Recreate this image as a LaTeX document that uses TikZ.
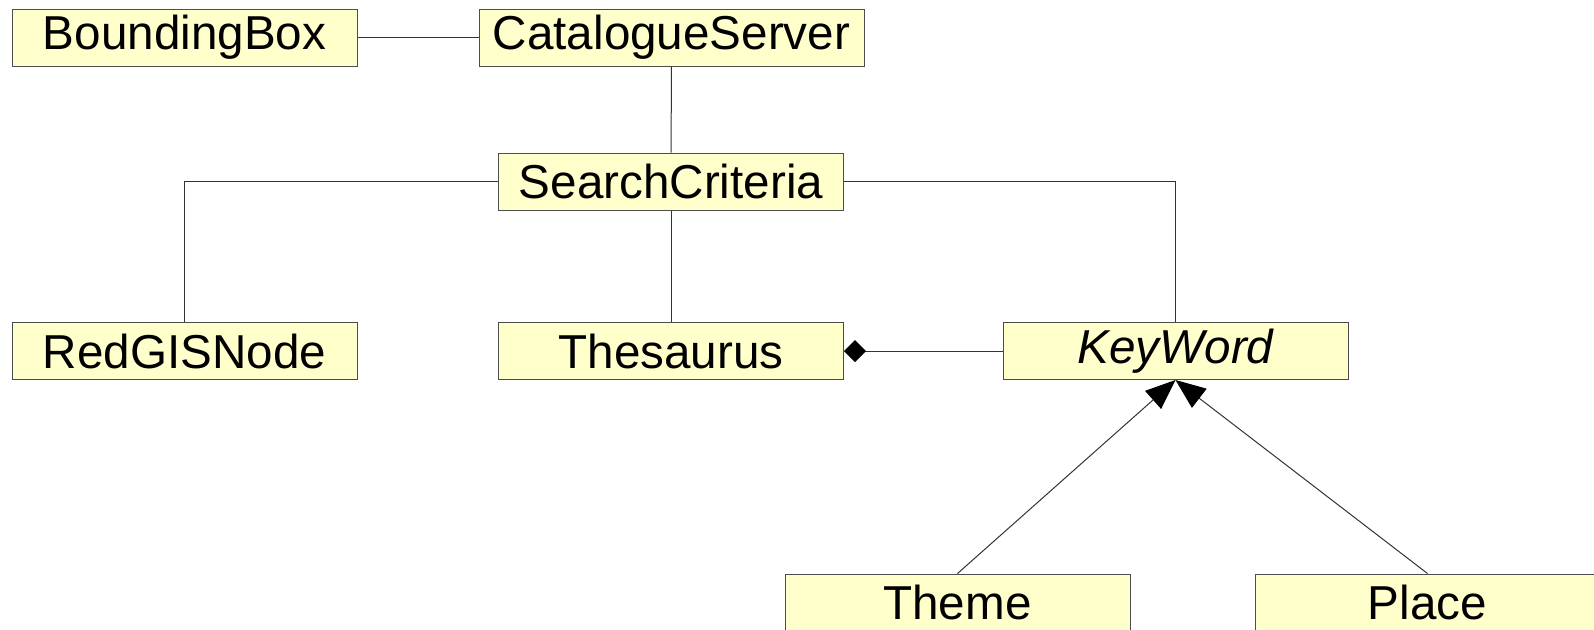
\documentclass[tikz,border=0pt]{standalone}
\usepackage{fontspec}
\setmainfont{Liberation Sans}
\usepackage{xcolor}
\usetikzlibrary{positioning, arrows.meta}

\definecolor{classfill}{HTML}{FFFFCC}

\begin{document}
\begin{tikzpicture}[ % GLOBAL CFG
    x = 0.5pt, y = -0.5pt,
    font=\fontsize{23.8}{28}\selectfont,
    >=LaTeX,
    % Styles
    classbox/.style={% For the class boxes
        rectangle,
        draw = black!70,
        fill = classfill,
        line width = 0.5pt,
        minimum width = 172.5pt,
        minimum height = 28.5pt,
        inner sep = 0pt,
        },
    assoc/.style={% Plain associations
        draw = black!80,
        line width = 0.5pt,
        },
    compos/.style={% Composition, diamond at the whole
        assoc,
        -{Diamond[length=11pt, width=11pt, black]},
        },
    inherit/.style={% Generalisation
        assoc,
        -{Triangle[length=15pt, width=12pt, black]},
        },
    ]
    \clip (0, 0) rectangle (1594, 629);
    \useasboundingbox (0, 0) rectangle (1594, 629);

    % Classes
    \node [classbox] (bbox) at (184.5, 37.5) {BoundingBox};
    \node [classbox, minimum width = 192.5pt] (server) at (671.5, 37.5) {CatalogueServer};
    \node [classbox] (criteria) at (671, 181.5) {SearchCriteria};
    \node [classbox] (redgis) at (184.5, 351) {RedGISNode};
    \node [classbox] (thes) at (671, 351) {Thesaurus};
    \node [classbox] (kword) at (1175.5, 351) {\itshape KeyWord};
    \node [classbox] (theme) at (957.5, 602.5) {Theme};
    \node [classbox] (place) at (1427.5, 602.5) {Place};

    % Associations
    \draw [assoc] (bbox) -- (server);
    \draw [assoc] (server) -- (criteria);
    \draw [assoc] (criteria) -- (thes);
    \draw [assoc] (criteria.west) -| (redgis.north);
    \draw [assoc] (criteria.east) -| (kword.north);

    % Composition
    \draw [compos] (kword.west) -- (thes.east);

    % Generalisation
    \draw [inherit] (theme.north) -- (kword.south);
    \draw [inherit] (place.north) -- (kword.south);

\end{tikzpicture}
\end{document}
